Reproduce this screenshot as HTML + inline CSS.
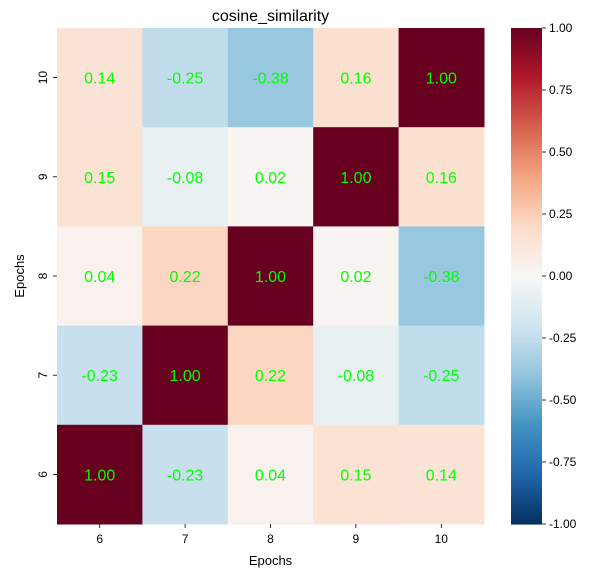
<!DOCTYPE html>
<html><head><meta charset="utf-8">
<style>
html,body{margin:0;padding:0;background:#fff;}
svg{display:block;font-family:"Liberation Sans","DejaVu Sans",sans-serif;}
</style></head>
<body>
<svg id="chart" width="597" height="577" viewBox="0 0 597 577"></svg>
<script>
const xCategories = [6, 7, 8, 9, 10];
const yCategories = [10, 9, 8, 7, 6];
const matrixRows = [
  [0.14, -0.25, -0.38, 0.16, 1.00],
  [0.15, -0.08, 0.02, 1.00, 0.16],
  [0.04, 0.22, 1.00, 0.02, -0.38],
  [-0.23, 1.00, 0.22, -0.08, -0.25],
  [1.00, -0.23, 0.04, 0.15, 0.14]
];
const colorbarTicks = [-1.00, -0.75, -0.50, -0.25, 0.00, 0.25, 0.50, 0.75, 1.00];

const NS = "http://www.w3.org/2000/svg";
const svg = document.getElementById('chart');
function mk(tag, attrs, parent){
  const e = document.createElementNS(NS, tag);
  for (const k in attrs) e.setAttribute(k, attrs[k]);
  (parent || svg).appendChild(e);
  return e;
}
const stops = ["#053061","#2166ac","#4393c3","#92c5de","#d1e5f0","#f7f7f7","#fddbc7","#f4a582","#d6604d","#b2182b","#67001f"];
function hex(h){return [1,3,5].map(i=>parseInt(h.substr(i,2),16));}
function color(v){
  let t = (v + 1) / 2 * (stops.length - 1);
  t = Math.max(0, Math.min(stops.length - 1, t));
  const i = Math.min(Math.floor(t), stops.length - 2), f = t - i;
  const a = hex(stops[i]), b = hex(stops[i+1]);
  return "rgb(" + a.map((c,j)=>Math.round(c + (b[j]-c)*f)).join(",") + ")";
}
const L = 57, R = 484, T = 28, B = 524;
const cw = (R - L) / xCategories.length, ch = (B - T) / yCategories.length;
const xScale = i => L + i * cw;
const yScale = j => T + j * ch;

// Title
let t = mk('text', {x: (L+R)/2, y: 21, 'text-anchor':'middle', 'font-size':16, fill:'#000'});
t.textContent = 'cosine_similarity';



const cells = mk('g', {});


matrixRows.forEach((row, j) => {
  row.forEach((v, i) => {
    const r = mk('rect', {x: xScale(i), y: yScale(j), width: cw + 0.5, height: ch + 0.5, fill: color(v)}, cells);
    
    
    const tx = mk('text', {x: xScale(i) + cw/2, y: yScale(j) + ch/2 + 6, 'text-anchor':'middle', 'font-size':16, fill:'#00ff00'}, cells);
    tx.textContent = v.toFixed(2);
    
    
  });
});

// X ticks
xCategories.forEach((c, i) => {
  const x = xScale(i) + cw/2;
  mk('line', {x1:x, x2:x, y1:B, y2:B+4, stroke:'#000', 'stroke-width':0.8});
  const tx = mk('text', {x:x, y:B+19, 'text-anchor':'middle', 'font-size':12, fill:'#000'});
  tx.textContent = c;
  
  
});
t = mk('text', {x:(L+R)/2, y:565, 'text-anchor':'middle', 'font-size':13, fill:'#000'});
t.textContent = 'Epochs';



// Y ticks
yCategories.forEach((c, j) => {
  const y = yScale(j) + ch/2;
  mk('line', {x1:L-4, x2:L, y1:y, y2:y, stroke:'#000', 'stroke-width':0.8});
  const tx = mk('text', {x:0, y:0, 'text-anchor':'middle', 'font-size':12, fill:'#000', transform:'translate(' + (L-10) + ',' + y + ') rotate(-90)'});
  tx.textContent = c;
  
  
});
t = mk('text', {x:0, y:0, 'text-anchor':'middle', 'font-size':13, fill:'#000', transform:'translate(24,' + (T+B)/2 + ') rotate(-90)'});
t.textContent = 'Epochs';



// Colorbar
const CL = 511, CR = 542;
const cb = mk('g', {});


const N = 200;
for (let k = 0; k < N; k++) {
  const v = 1 - 2 * (k + 0.5) / N;
  mk('rect', {x:CL, y:T + k*(B-T)/N, width:CR-CL, height:(B-T)/N + 0.6, fill:color(v)}, cb);
}
const cbY = v => T + (1 - v) / 2 * (B - T);
colorbarTicks.forEach(v => {
  const y = cbY(v);
  mk('line', {x1:CR, x2:CR+4, y1:y, y2:y, stroke:'#000', 'stroke-width':0.8}, cb);
  const tx = mk('text', {x:CR+7, y:y+4, 'font-size':12, fill:'#000'}, cb);
  tx.textContent = v.toFixed(2);
  
  
});
</script>
</body></html>
